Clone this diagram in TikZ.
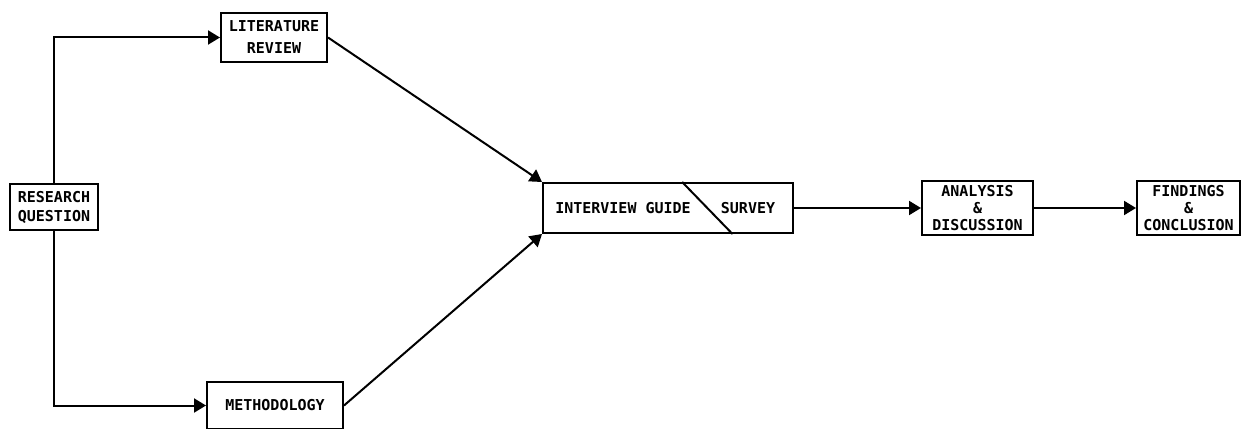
\documentclass[tikz,border=0pt]{standalone}
\usepackage{fontspec}
\setmonofont{DejaVu Sans Mono}
\usetikzlibrary{arrows.meta,calc}
\begin{document}
\begin{tikzpicture}[x=1pt,y=-1pt,
  lbl/.style={font=\ttfamily\bfseries\fontsize{15}{19}\selectfont,inner sep=0pt,align=center},
  box/.style={lbl,draw,line width=2pt},
  link/.style={line width=2pt,-{Triangle[length=12pt,width=14pt]}},
  plain/.style={line width=2pt}]
\useasboundingbox (0,0) rectangle (1249,428);

% stages
\node[box,minimum width=88pt,minimum height=46pt] (rq) at (54,207) {RESEARCH\\QUESTION};
\node[box,minimum width=106pt,minimum height=49pt,font=\ttfamily\bfseries\fontsize{15}{22}\selectfont] (lr) at (274,37.5) {LITERATURE\\REVIEW};
\node[box,minimum width=136pt,minimum height=47pt] (meth) at (275,405.5) {METHODOLOGY};

% split box for the two instruments
\node[box,minimum width=250pt,minimum height=50pt] (ig) at (668,208) {};
\node[lbl] (igl) at (623,208) {INTERVIEW GUIDE};
\node[lbl] (igr) at (748,208) {SURVEY};
\draw[plain] ($(ig.north west)!0.556!(ig.north east)$) -- ($(ig.south west)!0.756!(ig.south east)$);

\node[box,minimum width=111pt,minimum height=54pt,font=\ttfamily\bfseries\fontsize{15}{17}\selectfont] (an) at (977.5,208) {ANALYSIS\\\&\\DISCUSSION};
\node[box,minimum width=103pt,minimum height=54pt,font=\ttfamily\bfseries\fontsize{15}{17}\selectfont] (fc) at (1188.5,208) {FINDINGS\\\&\\CONCLUSION};

% flow
\draw[link] (rq.north) |- (lr.west);
\draw[link] (rq.south) |- (meth.west);
\draw[link] (lr.east) -- (ig.north west);
\draw[link] (meth.east) -- (ig.south west);
\draw[link] (ig.east) -- (an.west);
\draw[link] (an.east) -- (fc.west);
\end{tikzpicture}
\end{document}
